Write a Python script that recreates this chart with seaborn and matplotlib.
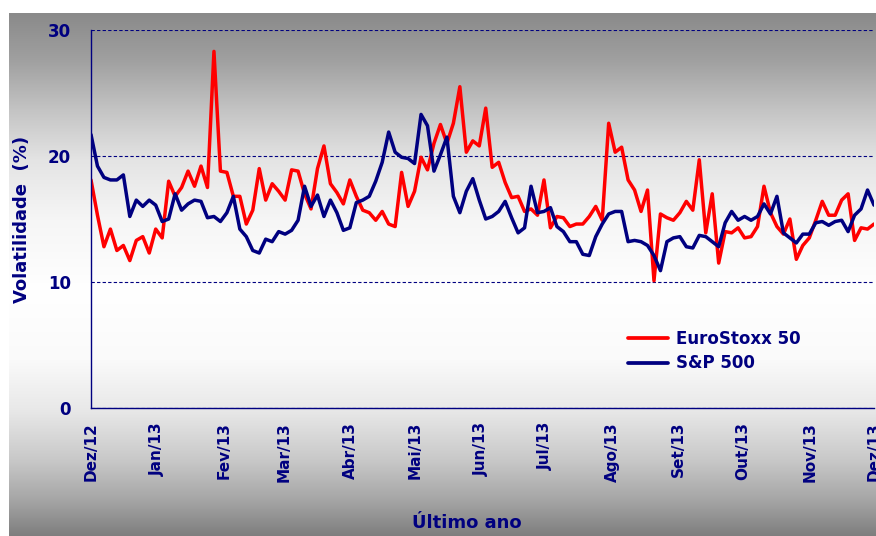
import numpy as np
import pandas as pd
import matplotlib
matplotlib.use("Agg")
import matplotlib.pyplot as plt
from matplotlib.lines import Line2D
import seaborn as sns

# ---------------- data ----------------
series_names = ["EuroStoxx 50", "S&P 500"]

euro = [18.1, 15.3, 12.8, 14.2, 12.5, 12.9, 11.7, 13.3, 13.6, 12.3,
        14.2, 13.5, 18.0, 16.8, 17.5, 18.8, 17.6, 19.2, 17.5, 28.3,
        18.8, 18.7, 16.8, 16.8, 14.6, 15.7, 19.0, 16.5, 17.8, 17.2,
        16.5, 18.9, 18.8, 17.0, 15.8, 19.0, 20.8, 17.8, 17.1, 16.2,
        18.1, 16.8, 15.7, 15.5, 14.9, 15.6, 14.6, 14.4, 18.7, 16.0,
        17.2, 19.9, 18.9, 21.0, 22.5, 21.0, 22.6, 25.5, 20.3, 21.2,
        20.8, 23.8, 19.1, 19.5, 17.9, 16.7, 16.8, 15.6, 15.8, 15.3,
        18.1, 14.3, 15.2, 15.1, 14.4, 14.6, 14.6, 15.2, 16.0, 14.9,
        22.6, 20.3, 20.7, 18.1, 17.3, 15.6, 17.3, 10.1, 15.4, 15.1,
        14.9, 15.5, 16.4, 15.7, 19.7, 13.9, 17.0, 11.5, 14.0, 13.9,
        14.3, 13.5, 13.6, 14.4, 17.6, 15.5, 14.4, 13.8, 15.0, 11.8,
        12.9, 13.5, 14.9, 16.4, 15.3, 15.3, 16.5, 17.0, 13.3, 14.3,
        14.2, 14.6]

sp500 = [21.7, 19.2, 18.3, 18.1, 18.1, 18.5, 15.2, 16.5, 16.0, 16.5,
         16.1, 14.8, 15.0, 17.0, 15.7, 16.2, 16.5, 16.4, 15.1, 15.2,
         14.8, 15.5, 16.8, 14.2, 13.6, 12.5, 12.3, 13.4, 13.2, 14.0,
         13.8, 14.1, 14.9, 17.6, 16.0, 16.9, 15.2, 16.5, 15.5, 14.1,
         14.3, 16.3, 16.5, 16.8, 18.0, 19.5, 21.9, 20.3, 19.9, 19.8,
         19.4, 23.3, 22.4, 18.8, 20.1, 21.5, 16.8, 15.5, 17.2, 18.2,
         16.5, 15.0, 15.2, 15.6, 16.4, 15.1, 13.9, 14.3, 17.6, 15.5,
         15.6, 15.9, 14.4, 14.0, 13.2, 13.2, 12.2, 12.1, 13.6, 14.6,
         15.4, 15.6, 15.6, 13.2, 13.3, 13.2, 12.9, 12.1, 10.9, 13.2,
         13.5, 13.6, 12.8, 12.7, 13.7, 13.6, 13.2, 12.8, 14.7, 15.6,
         14.9, 15.2, 14.9, 15.2, 16.2, 15.4, 16.8, 13.9, 13.5, 13.1,
         13.8, 13.8, 14.7, 14.8, 14.5, 14.8, 14.9, 14.0, 15.3, 15.8,
         17.3, 16.1]

month_labels = ["Dez/12", "Jan/13", "Fev/13", "Mar/13", "Abr/13", "Mai/13",
                "Jun/13", "Jul/13", "Ago/13", "Set/13", "Out/13", "Nov/13",
                "Dez/13"]
y_ticks = [0, 10, 20, 30]

start, end = "2012-12-01", "2013-12-01"

# ---------------- styling ----------------
NAVY = "#000080"
RED = "#ff0000"

sns.set_theme(style="white")
plt.rcParams["font.family"] = ["DejaVu Sans"]

dates = pd.date_range(start, end, periods=len(euro))
df = pd.DataFrame({
    "data": np.concatenate([dates, dates]),
    "vol": euro + sp500,
    "serie": np.repeat(series_names, len(euro)),
})

W, H = 876, 536
fig = plt.figure(figsize=(W / 100, H / 100), dpi=100)
fig.patch.set_facecolor("white")

# gradient panel background (grey -> white -> grey)
bg = fig.add_axes([9 / W, 0, 1 - 9 / W, (H - 13) / H])
rows = np.arange(13, H)
shade = np.interp(rows, [13, 60, 110, 160, 220, 290, 360, 410, 460, 500, 536],
                  [138, 160, 196, 228, 246, 255, 250, 232, 200, 165, 125]) / 255.0
img = np.repeat(shade[:, None], 4, axis=1)
bg.imshow(np.dstack([img, img, img]), aspect="auto", extent=[0, 1, 0, 1],
          interpolation="bilinear")
bg.set_axis_off()
bg.set_zorder(0)

ax = fig.add_axes([91 / W, (H - 408) / H, 783 / W, 378 / H])
ax.set_zorder(1)
ax.patch.set_alpha(0)

sns.lineplot(data=df, x="data", y="vol", hue="serie",
             palette={series_names[0]: RED, series_names[1]: NAVY},
             linewidth=2.5, ax=ax, legend=False)

ax.set_ylim(0, 30)
ax.set_xlim(pd.Timestamp(start), pd.Timestamp(end))
ax.set_yticks(y_ticks)
ax.set_yticklabels([str(v) for v in y_ticks])
month_pos = pd.date_range(start, end, freq="MS")
ax.set_xticks(month_pos)
ax.set_xticklabels(month_labels, rotation=90)

ax.grid(False)
ax.yaxis.grid(True, color=NAVY, linestyle=(0, (3, 2)), linewidth=0.8)
for s in ["top", "right"]:
    ax.spines[s].set_visible(False)
for s in ["left", "bottom"]:
    ax.spines[s].set_color(NAVY)
    ax.spines[s].set_linewidth(1.0)
    ax.spines[s].set_zorder(3)

ax.tick_params(axis="y", direction="out", length=4.3, width=1, color=NAVY,
               pad=10, labelsize=12, labelcolor=NAVY)
ax.tick_params(axis="x", direction="out", length=4, width=1, color=NAVY,
               pad=6, labelsize=11, labelcolor=NAVY)
for t in ax.get_xticklabels() + ax.get_yticklabels():
    t.set_fontweight("bold")

ax.set_ylabel("Volatilidade  (%)", fontsize=13, fontweight="bold",
              color=NAVY, va="center")
ax.yaxis.set_label_coords((22 - 91) / 783, 0.5)
ax.set_xlabel("Último ano", fontsize=13, fontweight="bold", color=NAVY,
              va="center")
ax.xaxis.set_label_coords((467 - 91) / 783, (408 - 523) / 378)

handles = [Line2D([0], [0], color=RED, lw=2.7),
           Line2D([0], [0], color=NAVY, lw=2.7)]
leg = ax.legend(handles, series_names, loc="upper left",
                bbox_to_anchor=((628 - 91) / 783, (408 - 330) / 378),
                frameon=False, borderpad=0, borderaxespad=0,
                handlelength=2.4, handletextpad=0.45, labelspacing=0.38,
                prop={"weight": "bold", "size": 12})
for t in leg.get_texts():
    t.set_color(NAVY)

fig.savefig("out.png", dpi=100)
